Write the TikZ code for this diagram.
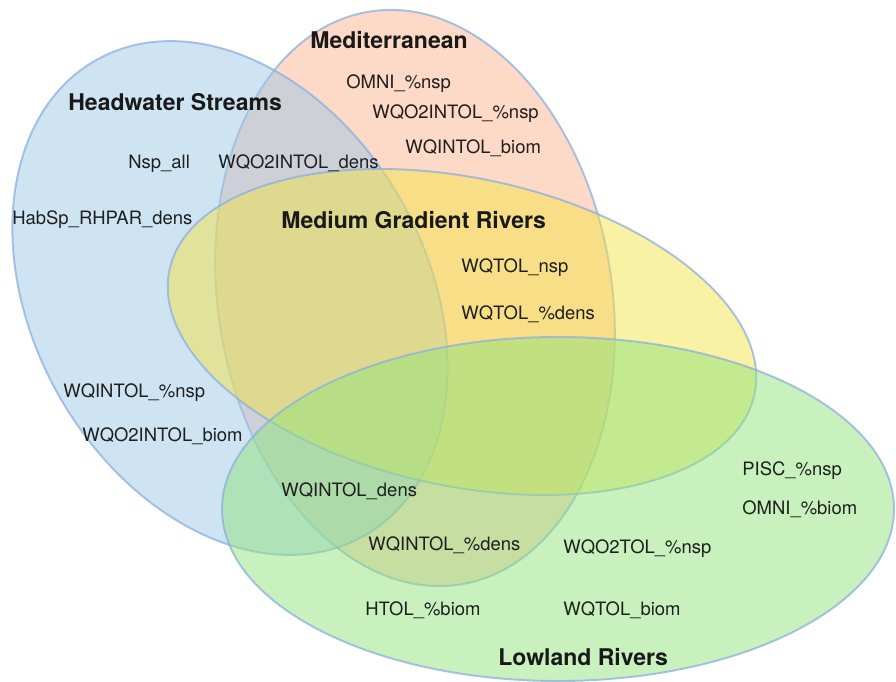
\documentclass[tikz,border=0pt]{standalone}
\usepackage{fontspec}
\setmainfont{TeX Gyre Heros}

\definecolor{medred}{RGB}{251,179,143}
\definecolor{hwblue}{RGB}{159,201,231}
\definecolor{mgyellow}{RGB}{243,227,73}
\definecolor{lowgreen}{RGB}{145,227,125}
\definecolor{rim}{RGB}{140,175,225}

\begin{document}
\begin{tikzpicture}[x=0.02cm, y=-0.02cm,
    set/.style={draw=rim, line width=1.1pt, draw opacity=0.75, fill opacity=0.5},
    item/.style={anchor=base west, inner sep=0pt, text=black!88,
      font=\fontsize{10.5}{12}\selectfont},
    title/.style={anchor=base west, inner sep=0pt, text=black!90,
      font=\fontsize{13.1}{15}\selectfont\bfseries}]
    \useasboundingbox (0,0) rectangle (896,682);

    % Sets, back to front
    \foreach \cx/\cy/\ra/\rb/\ang/\col in {415/298/290/197/-81/medred,
        230/298/273/197/-60.7/hwblue, 462/332/299/154/-12/mgyellow,
        558/509/336/172/0/lowgreen}
    \draw[set, fill=\col, rotate around={\ang:(\cx,\cy)}]
        (\cx,\cy) ellipse [x radius=\ra, y radius=\rb];

    % Set names
    \node[title] (med) at (310,49) {Mediterranean};
    \node[title] (hw) at (68,111) {Headwater Streams};
    \node[title] (mgr) at (281,229) {Medium Gradient Rivers};
    \node[title] (low) at (498,665) {Lowland Rivers};

    % Metrics
    \node[item] (omni-nsp) at (346,89) {OMNI\_\%nsp};
    \node[item] (wqo2intol-nsp) at (372,119) {WQO2INTOL\_\%nsp};
    \node[item] (wqintol-biom) at (405,154) {WQINTOL\_biom};
    \node[item] (nsp-all) at (128,169) {Nsp\_all};
    \node[item] (wqo2intol-dens) at (218,169) {WQO2INTOL\_dens};
    \node[item] (habsp) at (12,225) {HabSp\_RHPAR\_dens};
    \node[item] (wqtol-nsp) at (461,273) {WQTOL\_nsp};
    \node[item] (wqtol-dens) at (461,319) {WQTOL\_\%dens};
    \node[item] (wqintol-nsp) at (63,397) {WQINTOL\_\%nsp};
    \node[item] (wqo2intol-biom) at (82,441) {WQO2INTOL\_biom};
    \node[item] (pisc-nsp) at (742,475) {PISC\_\%nsp};
    \node[item] (wqintol-dens) at (281,496) {WQINTOL\_dens};
    \node[item] (omni-biom) at (742,514) {OMNI\_\%biom};
    \node[item] (wqintol-pdens) at (368,550) {WQINTOL\_\%dens};
    \node[item] (wqo2tol-nsp) at (563,553) {WQO2TOL\_\%nsp};
    \node[item] (htol-biom) at (365,615) {HTOL\_\%biom};
    \node[item] (wqtol-biom) at (563,615) {WQTOL\_biom};
\end{tikzpicture}
\end{document}
